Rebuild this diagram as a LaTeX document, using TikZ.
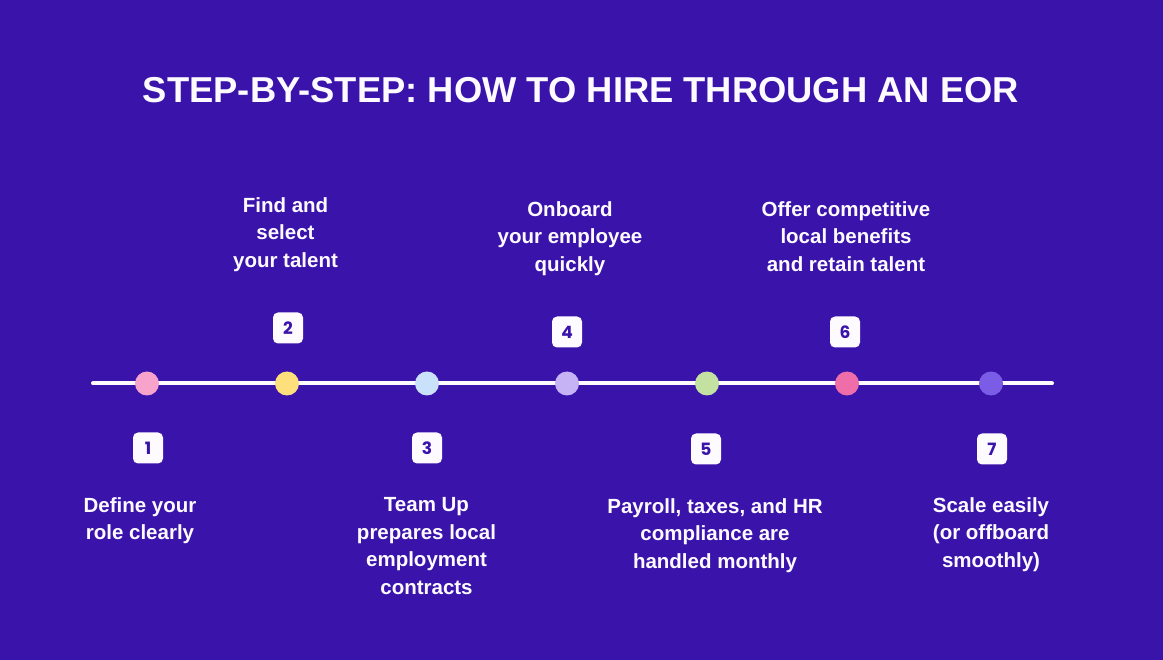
\documentclass[tikz,border=0pt]{standalone}
\usepackage{fontspec}
\setmainfont{Liberation Sans}
\newfontfamily\digitfont{Poppins}
\begin{document}
\definecolor{bgviolet}{RGB}{58,19,171}
\definecolor{inkwhite}{RGB}{253,251,255}
\definecolor{dotA}{RGB}{247,163,203}
\definecolor{dotB}{RGB}{253,224,124}
\definecolor{dotC}{RGB}{201,225,251}
\definecolor{dotD}{RGB}{197,179,246}
\definecolor{dotE}{RGB}{195,226,162}
\definecolor{dotF}{RGB}{239,109,169}
\definecolor{dotG}{RGB}{123,92,230}
\begin{tikzpicture}[x=1pt,y=-1pt,
  titletext/.style={text=inkwhite,inner sep=0pt,anchor=base,
    font=\fontsize{36}{40}\selectfont\bfseries},
  stepdot/.style={circle,minimum size=24pt,inner sep=0pt,draw=none},
  numbox/.style={fill=inkwhite,rounded corners=5pt,minimum width=30pt,
    minimum height=31pt,inner sep=0pt,text=bgviolet,
    font=\digitfont\fontsize{17}{20}\selectfont\bfseries},
  steptext/.style={text=inkwhite,inner sep=0pt,anchor=north,align=center,
    font=\fontsize{20.5}{27.7}\selectfont\bfseries},
  timeline/.style={draw=inkwhite,line width=4pt,line cap=round}]
  % canvas
  \fill[bgviolet] (0,0) rectangle (1163,660);
  \useasboundingbox (0,0) rectangle (1163,660);

  % heading
  \node[titletext] (title) at (581,103) {\scalebox{1.01}[1]{STEP-BY-STEP: HOW TO HIRE THROUGH AN EOR}};

  % timeline rail
  \coordinate (railL) at (93,383.5);
  \coordinate (railR) at (1052,383.5);
  \draw[timeline] (railL) -- (railR);

  % step markers
  \node[stepdot,fill=dotA] (d1) at (147,383.5) {};
  \node[stepdot,fill=dotB] (d2) at (287,383.5) {};
  \node[stepdot,fill=dotC] (d3) at (427,383.5) {};
  \node[stepdot,fill=dotD] (d4) at (567,383.5) {};
  \node[stepdot,fill=dotE] (d5) at (707,383.5) {};
  \node[stepdot,fill=dotF] (d6) at (847,383.5) {};
  \node[stepdot,fill=dotG] (d7) at (991,383.5) {};

  % step numbers
  \node[numbox] (n1) at (148,448) {1};
  \node[numbox] (n2) at (288,328) {2};
  \node[numbox] (n3) at (427,448) {3};
  \node[numbox] (n4) at (567,332) {4};
  \node[numbox] (n5) at (706,449) {5};
  \node[numbox] (n6) at (845,332) {6};
  \node[numbox] (n7) at (992,449) {7};

  % step descriptions (first baseline = north + 15)
  \node[steptext] (t1) at (140,497) {Define your\\role clearly};
  \node[steptext] (t2) at (285.5,197) {Find and\\select\\your talent};
  \node[steptext] (t3) at (426.5,497) {Team Up\\prepares local\\employment\\contracts};
  \node[steptext] (t4) at (570,201) {Onboard\\your employee\\quickly};
  \node[steptext] (t5) at (715,498) {Payroll, taxes, and HR\\compliance are\\handled monthly};
  \node[steptext] (t6) at (846,201) {Offer competitive\\local benefits\\and retain talent};
  \node[steptext] (t7) at (991,497) {Scale easily\\(or offboard\\smoothly)};
\end{tikzpicture}
\end{document}
